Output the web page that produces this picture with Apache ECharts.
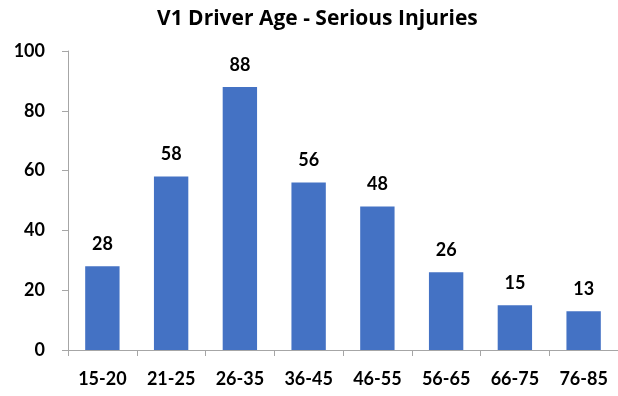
<!DOCTYPE html>
<html>
<head>
<meta charset="utf-8">
<script src="https://cdn.jsdelivr.net/npm/echarts@6/dist/echarts.min.js"></script>
<style>
  html, body { margin: 0; padding: 0; background: #fff; }
  #chart { width: 618px; height: 396px; }
</style>
</head>
<body>
<div id="chart"></div>
<script>
// Age bands of the V1 driver and serious injury counts
const ageBands = ['15-20', '21-25', '26-35', '36-45', '46-55', '56-65', '66-75', '76-85'];
const seriousInjuries = [28, 58, 88, 56, 48, 26, 15, 13];
const yTicks = { min: 0, max: 100, interval: 20 };

const FONT = 'Lato, "Open Sans", sans-serif';
const TITLE_FONT = '"Open Sans", Lato, sans-serif';
const AXIS_GREY = '#a6a6a6';

const chart = echarts.init(document.getElementById('chart'), null, { renderer: 'canvas' });
chart.setOption({
  animation: false,
  title: {
    text: 'V1 Driver Age - Serious Injuries',
    left: 157,
    top: 9,
    padding: 0,
    textStyle: { fontFamily: TITLE_FONT, fontWeight: 'bold', fontSize: 21, color: '#000' }
  },
  grid: { left: 68, top: 51, width: 554, height: 299, containLabel: false },
  xAxis: {
    type: 'category',
    data: ageBands,
    axisLine: { lineStyle: { color: AXIS_GREY, width: 1 } },
    axisTick: { show: true, length: 6, lineStyle: { color: AXIS_GREY } },
    axisLabel: { fontFamily: FONT, fontWeight: 'bold', fontSize: 18, color: '#000', margin: 20 },
    splitLine: { show: false }
  },
  yAxis: {
    type: 'value',
    min: yTicks.min,
    max: yTicks.max,
    interval: yTicks.interval,
    axisLine: { show: true, lineStyle: { color: AXIS_GREY, width: 1 } },
    axisTick: { show: true, length: 6, lineStyle: { color: AXIS_GREY } },
    axisLabel: { fontFamily: FONT, fontWeight: 'bold', fontSize: 18, color: '#000', margin: 23 },
    splitLine: { show: false }
  },
  series: [{
    type: 'bar',
    data: seriousInjuries,
    barWidth: '50%',
    itemStyle: { color: '#4472C4' },
    label: {
      show: true,
      position: 'top',
      distance: 13,
      fontFamily: FONT,
      fontWeight: 'bold',
      fontSize: 18,
      color: '#000'
    }
  }]
});
</script>
</body>
</html>
